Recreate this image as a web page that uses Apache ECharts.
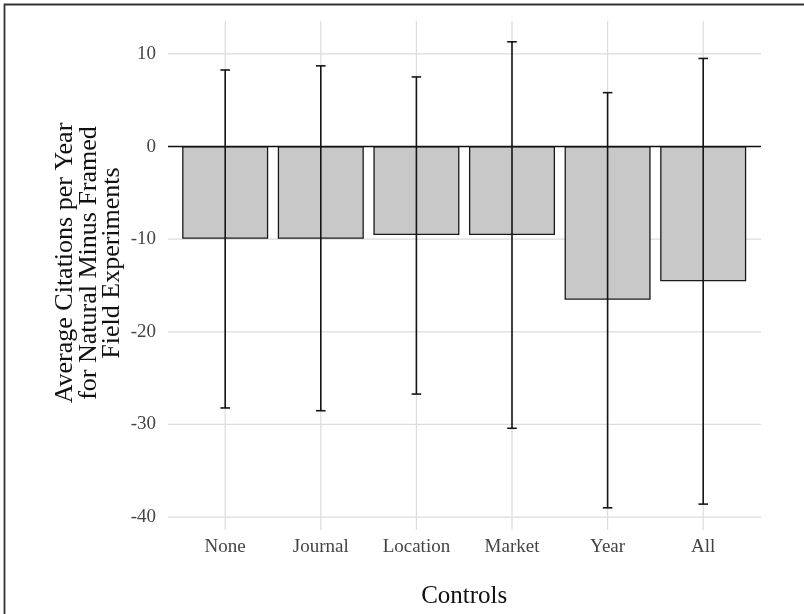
<!DOCTYPE html>
<html>
<head>
<meta charset="utf-8">
<script src="https://cdn.jsdelivr.net/npm/echarts@6/dist/echarts.min.js"></script>
<style>html,body{margin:0;padding:0;background:#fff;}#c{width:804px;height:614px;}</style>
</head>
<body>
<div id="c"></div>
<script>
const categories = ['None', 'Journal', 'Location', 'Market', 'Year', 'All'];
const estimates = [-10.0, -10.0, -9.6, -9.6, -16.6, -14.6];
const upper = [8.25, 8.7, 7.5, 11.3, 5.8, 9.5];
const lower = [-28.3, -28.6, -26.8, -30.5, -39.1, -38.7];
const yTicks = [-40, -30, -20, -10, 0, 10];
const yTitle = 'Average Citations per Year\nfor Natural Minus Framed\nField Experiments';
const xTitle = 'Controls';

const FONT = '"Liberation Serif", serif';
const Y_MIN = -41.5, Y_MAX = 13.55;

const chart = echarts.init(document.getElementById('c'), null, {renderer: 'canvas'});

const option = {
  animation: false,
  backgroundColor: '#ffffff',
  grid: [
    {left: 168, right: 43, top: 21, bottom: 83},
    {left: 177.4, right: 53, top: 21, bottom: 83}
  ],
  xAxis: [
    {gridIndex: 0, type: 'value', min: 0, max: 1, show: false},
    {gridIndex: 1, type: 'category', data: categories, boundaryGap: true,
     axisLine: {show: false}, axisTick: {show: false}, splitLine: {show: false},
     axisLabel: {color: '#444', fontFamily: FONT, fontSize: 19, margin: 8},
     name: xTitle, nameLocation: 'middle', nameGap: 54,
     nameTextStyle: {color: '#111', fontFamily: FONT, fontSize: 25}}
  ],
  yAxis: [
    {gridIndex: 0, type: 'value', min: Y_MIN, max: Y_MAX,
     axisLine: {show: false}, axisTick: {show: false}, splitLine: {show: false},
     axisLabel: {color: '#444', fontFamily: FONT, fontSize: 19, margin: 12,
                 showMinLabel: false, showMaxLabel: false}},
    {gridIndex: 1, type: 'value', min: Y_MIN, max: Y_MAX, show: false}
  ],
  graphic: [
    {type: 'rect', shape: {x: 4.5, y: 4.5, width: 900, height: 700},
     style: {fill: 'none', stroke: '#333', lineWidth: 1.8}, z: 100, silent: true},
    {type: 'text', x: 89, y: 263, rotation: Math.PI / 2,
     style: {text: yTitle, fill: '#111', font: '26px ' + FONT, textAlign: 'center',
             textVerticalAlign: 'middle', lineHeight: 23.5}, silent: true}
  ],
  series: [
    {
      name: 'hgrid', type: 'custom', xAxisIndex: 0, yAxisIndex: 0, z: 1, silent: true,
      data: yTicks.map(v => [v]),
      renderItem: function (params, api) {
        const v = api.value(0);
        const p1 = api.coord([0, v]);
        const p2 = api.coord([1, v]);
        return {type: 'line', shape: {x1: p1[0], y1: p1[1], x2: p2[0], y2: p2[1]},
                style: {stroke: '#dcdcdc', lineWidth: 1.2}};
      }
    },
    {
      name: 'vgrid', type: 'custom', xAxisIndex: 1, yAxisIndex: 1, z: 1, silent: true,
      data: categories.map((c, i) => [i]),
      renderItem: function (params, api) {
        const i = api.value(0);
        const top = api.coord([i, Y_MAX]);
        const bot = api.coord([i, Y_MIN]);
        return {type: 'line', shape: {x1: top[0], y1: top[1], x2: bot[0], y2: bot[1]},
                style: {stroke: '#dcdcdc', lineWidth: 1.2}};
      }
    },
    {
      name: 'estimate', type: 'bar', xAxisIndex: 1, yAxisIndex: 1, z: 2,
      data: estimates, barWidth: '90%',
      itemStyle: {color: '#c8c8c8', borderColor: '#1a1a1a', borderWidth: 1.3}
    },
    {
      name: 'zero', type: 'custom', xAxisIndex: 0, yAxisIndex: 0, z: 3, silent: true,
      data: [[0]],
      renderItem: function (params, api) {
        const v = api.value(0);
        const p1 = api.coord([0, v]);
        const p2 = api.coord([1, v]);
        return {type: 'line', shape: {x1: p1[0], y1: p1[1], x2: p2[0], y2: p2[1]},
                style: {stroke: '#111', lineWidth: 1.6}};
      }
    },
    {
      name: 'ci', type: 'custom', xAxisIndex: 1, yAxisIndex: 1, z: 4, silent: true,
      data: categories.map((c, i) => [i, lower[i], upper[i]]),
      renderItem: function (params, api) {
        const i = api.value(0);
        const lo = api.coord([i, api.value(1)]);
        const hi = api.coord([i, api.value(2)]);
        const half = api.size([1, 0])[0] * 0.05;
        const st = {stroke: '#151515', lineWidth: 1.6};
        return {type: 'group', children: [
          {type: 'line', shape: {x1: lo[0], y1: lo[1], x2: hi[0], y2: hi[1]}, style: st},
          {type: 'line', shape: {x1: hi[0] - half, y1: hi[1], x2: hi[0] + half, y2: hi[1]}, style: st},
          {type: 'line', shape: {x1: lo[0] - half, y1: lo[1], x2: lo[0] + half, y2: lo[1]}, style: st}
        ]};
      }
    }
  ]
};
chart.setOption(option);
</script>
</body>
</html>
